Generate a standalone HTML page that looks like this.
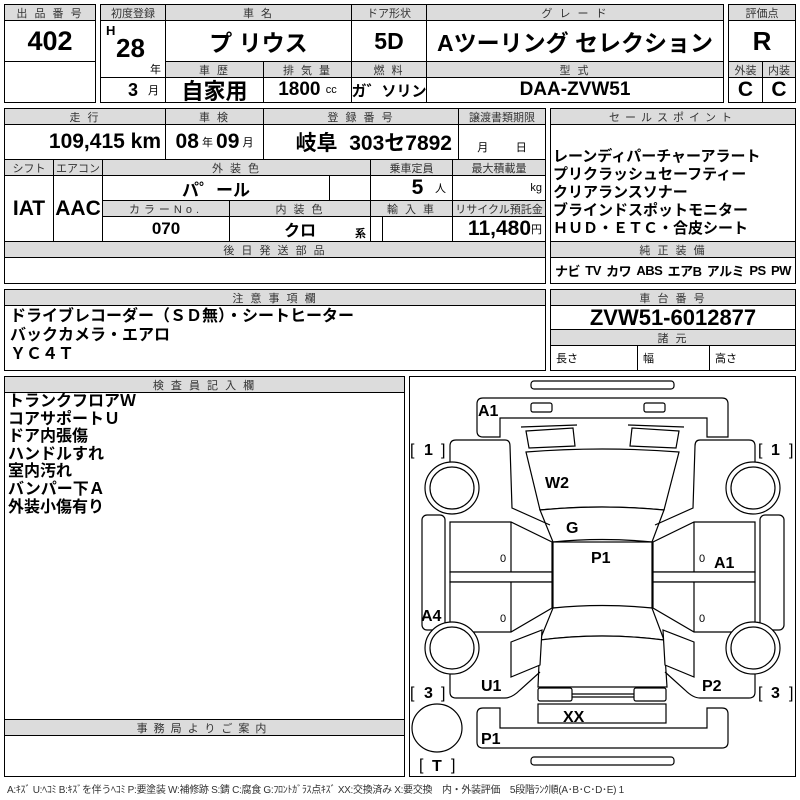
<!DOCTYPE html>
<html><head><meta charset="utf-8"><style>
*{margin:0;padding:0;box-sizing:border-box}
body{width:800px;height:800px;background:#fff;position:relative;overflow:hidden;font-family:"Liberation Sans","Noto Sans CJK JP",sans-serif;color:#000}
.b{position:absolute;border:1px solid #000;display:flex;align-items:center;justify-content:center;white-space:nowrap;overflow:hidden}
.h{background:#dcdcdc;font-size:11px;color:#333;letter-spacing:2px}
.v{font-weight:bold;font-size:21px;font-family:"Liberation Sans Narrow","Liberation Sans","Noto Sans CJK JP",sans-serif}
.s{font-size:11px;font-weight:normal}
.t{position:absolute;white-space:nowrap;font-weight:bold}
</style></head><body>
<!-- Box1 -->
<div class="b h" style="left:4px;top:4px;width:92px;height:17px">出 品 番 号</div>
<div class="b v" style="left:4px;top:20px;width:92px;height:42px;font-size:27px">402</div>
<div class="b" style="left:4px;top:61px;width:92px;height:42px"></div>
<!-- Box2 -->
<div class="b h" style="left:100px;top:4px;width:66px;height:17px;letter-spacing:0">初度登録</div>
<div class="b h" style="left:165px;top:4px;width:187px;height:17px">車 名</div>
<div class="b h" style="left:351px;top:4px;width:76px;height:17px;letter-spacing:0">ドア形状</div>
<div class="b h" style="left:426px;top:4px;width:298px;height:17px">グ レ ー ド</div>
<div class="b" style="left:100px;top:20px;width:66px;height:58px"></div>
<div class="t" style="left:106px;top:23px;font-size:13px">H</div>
<div class="t v" style="left:116px;top:33px;font-size:26px;">28</div>
<div class="t" style="left:150px;top:61px;font-size:11px;font-weight:normal">年</div>
<div class="b v" style="left:165px;top:20px;width:187px;height:42px;font-size:23px">プ リウス</div>
<div class="b v" style="left:351px;top:20px;width:76px;height:42px;font-size:23px">5D</div>
<div class="b v" style="left:426px;top:20px;width:298px;height:42px;font-size:23px">Aツーリング セレクション</div>
<div class="b h" style="left:165px;top:61px;width:99px;height:17px">車 歴</div>
<div class="b h" style="left:263px;top:61px;width:89px;height:17px">排 気 量</div>
<div class="b h" style="left:351px;top:61px;width:76px;height:17px">燃 料</div>
<div class="b h" style="left:426px;top:61px;width:298px;height:17px">型 式</div>
<div class="b v" style="left:100px;top:77px;width:66px;height:26px;justify-content:flex-end;padding-right:6px;font-size:18px">3&nbsp;&nbsp;<span class="s">月</span></div>
<div class="b v" style="left:165px;top:77px;width:99px;height:26px;font-size:22px">自家用</div>
<div class="b v" style="left:263px;top:77px;width:89px;height:26px;font-size:19px">1800&nbsp;<span class="s">cc</span></div>
<div class="b v" style="left:351px;top:77px;width:76px;height:26px;font-size:15px">ガ゛ソリン</div>
<div class="b v" style="left:426px;top:77px;width:298px;height:26px;font-size:19px">DAA-ZVW51</div>
<!-- Box3 -->
<div class="b h" style="left:728px;top:4px;width:68px;height:17px;letter-spacing:0">評価点</div>
<div class="b v" style="left:728px;top:20px;width:68px;height:42px;font-size:26px">R</div>
<div class="b h" style="left:728px;top:61px;width:35px;height:17px;letter-spacing:0">外装</div>
<div class="b h" style="left:762px;top:61px;width:34px;height:17px;letter-spacing:0">内装</div>
<div class="b v" style="left:728px;top:77px;width:35px;height:26px">C</div>
<div class="b v" style="left:762px;top:77px;width:34px;height:26px">C</div>
<!-- Box4 -->
<div class="b h" style="left:4px;top:108px;width:162px;height:17px">走 行</div>
<div class="b h" style="left:165px;top:108px;width:99px;height:17px">車 検</div>
<div class="b h" style="left:263px;top:108px;width:196px;height:17px">登 録 番 号</div>
<div class="b h" style="left:458px;top:108px;width:88px;height:17px;letter-spacing:0">譲渡書類期限</div>
<div class="b v" style="left:4px;top:124px;width:162px;height:36px;justify-content:flex-end;padding-right:4px">109,415 km</div>
<div class="b v" style="left:165px;top:124px;width:99px;height:36px">08<span class="s">&nbsp;年&nbsp;</span>09<span class="s">&nbsp;月</span></div>
<div class="b v" style="left:263px;top:124px;width:196px;height:36px;justify-content:flex-end;padding-right:6px">岐阜&nbsp;&nbsp;303セ7892</div>
<div class="b" style="left:458px;top:124px;width:88px;height:36px;font-size:11px;align-items:flex-end;padding-bottom:4px">月&nbsp;&nbsp;&nbsp;&nbsp;&nbsp;&nbsp;&nbsp;&nbsp;&nbsp;日</div>
<div class="b h" style="left:4px;top:159px;width:50px;height:17px;letter-spacing:0">シフト</div>
<div class="b h" style="left:53px;top:159px;width:50px;height:17px;letter-spacing:0">エアコン</div>
<div class="b h" style="left:102px;top:159px;width:269px;height:17px">外 装 色</div>
<div class="b h" style="left:370px;top:159px;width:83px;height:17px;letter-spacing:0">乗車定員</div>
<div class="b h" style="left:452px;top:159px;width:94px;height:17px;letter-spacing:0">最大積載量</div>
<div class="b v" style="left:4px;top:175px;width:50px;height:67px">IAT</div>
<div class="b v" style="left:53px;top:175px;width:50px;height:67px">AAC</div>
<div class="b v" style="left:102px;top:175px;width:228px;height:26px;font-size:17px">パ゜ール</div>
<div class="b" style="left:329px;top:175px;width:42px;height:26px"></div>
<div class="b v" style="left:370px;top:175px;width:83px;height:26px;justify-content:flex-end;padding-right:6px">5&nbsp;&nbsp;<span class="s">人</span></div>
<div class="b" style="left:452px;top:175px;width:94px;height:26px;justify-content:flex-end;padding-right:3px;font-size:11px">kg</div>
<div class="b h" style="left:102px;top:200px;width:128px;height:17px;letter-spacing:4px">カラーNo.</div>
<div class="b h" style="left:229px;top:200px;width:142px;height:17px">内 装 色</div>
<div class="b h" style="left:370px;top:200px;width:83px;height:17px">輸 入 車</div>
<div class="b h" style="left:452px;top:200px;width:94px;height:17px;letter-spacing:0">リサイクル預託金</div>
<div class="b v" style="left:102px;top:216px;width:128px;height:26px;font-size:17px">070</div>
<div class="b v" style="left:229px;top:216px;width:142px;height:26px;font-size:16px">クロ</div>
<div class="t s" style="left:355px;top:225px">系</div>
<div class="b" style="left:370px;top:216px;width:13px;height:26px"></div>
<div class="b" style="left:382px;top:216px;width:71px;height:26px"></div>
<div class="b v" style="left:452px;top:216px;width:94px;height:26px;justify-content:flex-end;padding-right:3px">11,480<span class="s">円</span></div>
<div class="b h" style="left:4px;top:241px;width:542px;height:17px">後 日 発 送 部 品</div>
<div class="b" style="left:4px;top:257px;width:542px;height:27px"></div>
<!-- Box5 -->
<div class="b h" style="left:550px;top:108px;width:246px;height:17px;letter-spacing:5px">セールスポイント</div>
<div class="b" style="left:550px;top:124px;width:246px;height:118px"></div>
<div class="t" style="left:553px;top:148px;font-size:15px;line-height:18px;font-weight:bold">レーンディパーチャーアラート<br>プリクラッシュセーフティー<br>クリアランスソナー<br>ブラインドスポットモニター<br>ＨＵＤ・ＥＴＣ・合皮シート</div>
<div class="b h" style="left:550px;top:241px;width:246px;height:17px">純 正 装 備</div>
<div class="b v" style="left:550px;top:257px;width:246px;height:27px;font-size:13px;justify-content:space-between;padding:0 4px;letter-spacing:-0.5px">
<span>ナビ</span><span>TV</span><span>カワ</span><span>ABS</span><span>エアB</span><span>アルミ</span><span>PS</span><span>PW</span></div>
<!-- Box6 -->
<div class="b h" style="left:4px;top:289px;width:542px;height:17px">注 意 事 項 欄</div>
<div class="b" style="left:4px;top:305px;width:542px;height:66px"></div>
<div class="t" style="left:10px;top:307px;font-size:16px;line-height:19px">ドライブレコーダー（ＳＤ無）・シートヒーター<br>バックカメラ・エアロ<br>ＹＣ４Ｔ</div>
<!-- Box7 -->
<div class="b h" style="left:550px;top:289px;width:246px;height:17px">車 台 番 号</div>
<div class="b v" style="left:550px;top:305px;width:246px;height:25px;font-size:22px">ZVW51-6012877</div>
<div class="b h" style="left:550px;top:329px;width:246px;height:17px">諸 元</div>
<div class="b" style="left:550px;top:345px;width:88px;height:26px;justify-content:flex-start;padding-left:5px;font-size:11px">長さ</div>
<div class="b" style="left:637px;top:345px;width:73px;height:26px;justify-content:flex-start;padding-left:5px;font-size:11px">幅</div>
<div class="b" style="left:709px;top:345px;width:87px;height:26px;justify-content:flex-start;padding-left:5px;font-size:11px">高さ</div>
<!-- Box8 -->
<div class="b h" style="left:4px;top:376px;width:401px;height:17px">検 査 員 記 入 欄</div>
<div class="b" style="left:4px;top:392px;width:401px;height:328px"></div>
<div class="t" style="left:8px;top:393px;font-size:16px;line-height:17.6px">トランクフロアＷ<br>コアサポートＵ<br>ドア内張傷<br>ハンドルすれ<br>室内汚れ<br>バンパー下Ａ<br>外装小傷有り</div>
<div class="b h" style="left:4px;top:719px;width:401px;height:17px;letter-spacing:6px">事務局よりご案内</div>
<div class="b" style="left:4px;top:735px;width:401px;height:42px"></div>
<div class="t" style="left:7px;top:781px;font-size:10px;font-weight:normal;color:#333;letter-spacing:-0.3px">A:ｷｽﾞ U:ﾍｺﾐ B:ｷｽﾞを伴うﾍｺﾐ P:要塗装 W:補修跡 S:錆 C:腐食 G:ﾌﾛﾝﾄｶﾞﾗｽ点ｷｽﾞ XX:交換済み X:要交換　内・外装評価　5段階ﾗﾝｸ順(A･B･C･D･E) 1</div>
<!-- Diagram -->
<div class="b" style="left:409px;top:376px;width:387px;height:401px"></div>
<svg style="position:absolute;left:0;top:0" width="800" height="800" viewBox="0 0 800 800" fill="#fff" stroke="#000" stroke-width="1.2">
<rect x="531" y="381" width="143" height="8" rx="3"/>
<rect x="531" y="757" width="143" height="8" rx="3"/>
<path d="M477,404 Q477,398 483,398 L722,398 Q728,398 728,404 L728,437 L707,437 L707,418 L500,418 L500,437 L483,437 Q477,437 477,431 Z"/>
<rect x="531" y="403" width="21" height="9" rx="2"/><rect x="644" y="403" width="21" height="9" rx="2"/>
<path d="M483,708 L500,708 L500,728 L707,728 L707,708 L722,708 Q728,708 728,714 L728,742 Q728,748 722,748 L483,748 Q477,748 477,742 L477,714 Q477,708 483,708 Z"/>
<path d="M521,427 L577,425 M684,427 L628,425" fill="none"/>
<path d="M526,431 L573,428 L575,446 L529,448 Z"/><path d="M679,431 L632,428 L630,446 L676,448 Z"/>
<path d="M526,452 Q602,446 679,452 L664,510 Q602,504 540,510 Z"/>
<path d="M540,510 Q602,504 664,510 L652,542 Q602,537 553,542 Z"/>
<rect x="553" y="542" width="99" height="66"/>
<path d="M553,608 Q602,603 652,608 L664,640 Q602,632 540,640 Z"/>
<path d="M540,640 Q602,632 664,640 L667,687 L538,687 Z"/>
<rect x="538" y="688" width="34" height="13" rx="2"/><rect x="634" y="688" width="32" height="13" rx="2"/>
<path d="M572,694 L634,694 M572,697 L634,697" fill="none"/>
<rect x="538" y="704" width="128" height="19"/>
<path d="M450,512 L450,446 Q450,440 456,440 L505,440 Q510,440 510,446 L512,508 L550,525" fill="none"/>
<path d="M450,522 L511,522 L552,542 L552,572 L450,572 Z"/>
<rect x="450" y="572" width="102" height="10"/>
<path d="M450,582 L552,582 L552,608 L511,632 L450,632 Z"/>
<path d="M511,522 L511,572 M511,582 L511,632" fill="none"/>
<path d="M511,642 L542,630 L540,665 L511,677 Z"/>
<path d="M450,660 L450,692 Q450,698 456,698 L505,698 Q512,698 520,690 L540,672" fill="none"/>
<rect x="422" y="515" width="23" height="115" rx="5"/>
<path d="M755,512 L755,446 Q755,440 749,440 L700,440 Q695,440 695,446 L693,508 L655,525" fill="none"/>
<path d="M755,522 L694,522 L653,542 L653,572 L755,572 Z"/>
<rect x="653" y="572" width="102" height="10"/>
<path d="M755,582 L653,582 L653,608 L694,632 L755,632 Z"/>
<path d="M694,522 L694,572 M694,582 L694,632" fill="none"/>
<path d="M694,642 L663,630 L665,665 L694,677 Z"/>
<path d="M755,660 L755,692 Q755,698 749,698 L700,698 Q693,698 685,690 L665,672" fill="none"/>
<rect x="760" y="515" width="24" height="115" rx="5"/>
<g><ellipse cx="452" cy="488" rx="27" ry="26"/><ellipse cx="452" cy="488" rx="22" ry="21"/>
<ellipse cx="452" cy="648" rx="27" ry="26"/><ellipse cx="452" cy="648" rx="22" ry="21"/>
<ellipse cx="753" cy="488" rx="27" ry="26"/><ellipse cx="753" cy="488" rx="22" ry="21"/>
<ellipse cx="753" cy="648" rx="27" ry="26"/><ellipse cx="753" cy="648" rx="22" ry="21"/>
<ellipse cx="437" cy="728" rx="25" ry="24"/></g>
<g fill="#000" stroke="none" font-family="Liberation Sans,sans-serif" font-weight="bold" font-size="16">
<text x="478" y="416">A1</text>
<text x="545" y="488">W2</text>
<text x="566" y="533">G</text>
<text x="591" y="563">P1</text>
<text x="714" y="568">A1</text>
<text x="421" y="621">A4</text>
<text x="481" y="691">U1</text>
<text x="702" y="691">P2</text>
<text x="563" y="722">XX</text>
<text x="481" y="744">P1</text>
<text x="410" y="455" font-weight="normal">[</text><text x="424" y="455">1</text><text x="441" y="455" font-weight="normal">]</text>
<text x="758" y="455" font-weight="normal">[</text><text x="771" y="455">1</text><text x="789" y="455" font-weight="normal">]</text>
<text x="410" y="698" font-weight="normal">[</text><text x="424" y="698">3</text><text x="441" y="698" font-weight="normal">]</text>
<text x="758" y="698" font-weight="normal">[</text><text x="771" y="698">3</text><text x="789" y="698" font-weight="normal">]</text>
<text x="419" y="770" font-weight="normal">[</text><text x="432" y="771">T</text><text x="451" y="770" font-weight="normal">]</text>
<g font-size="11" font-weight="normal"><text x="500" y="562">0</text><text x="500" y="622">0</text><text x="699" y="562">0</text><text x="699" y="622">0</text></g>
</g>
</svg>
</body></html>
